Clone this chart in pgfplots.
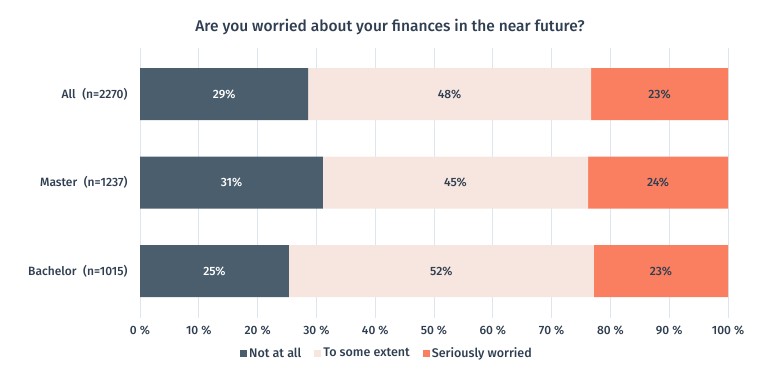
\documentclass[border=0pt]{standalone}
\usepackage{pgfplots}
\pgfplotsset{compat=1.18}
\usepackage{fontspec}
\setmainfont{Fira Sans Medium}
\definecolor{cdark}{HTML}{4B5E6D}
\definecolor{clight}{HTML}{F6E6DF}
\definecolor{corange}{HTML}{FA7F61}
\definecolor{ctext}{HTML}{2F3E50}
\definecolor{cgrid}{HTML}{DDE6EE}
\begin{document}
\begin{tikzpicture}[x=1pt,y=1pt]
\path[use as bounding box] (0,0) rectangle (768,378);
\node[text=ctext, font=\fontsize{15.5}{18}\selectfont] at (390,351) {Are you worried about your finances in the near future?};
\begin{axis}[
  at={(140pt,60pt)}, anchor=south west,
  scale only axis, width=588pt, height=270pt,
  xmin=0, xmax=100, ymin=-0.53, ymax=2.52,
  xbar stacked, bar width=52pt,
  ytick={0,1,2},
  yticklabels={Bachelor\hspace{0.3em} (n=1015), Master\hspace{0.3em} (n=1237), All\hspace{0.3em} (n=2270)},
  xtick={0,10,...,100},
  xticklabels={0 \%,10 \%,20 \%,30 \%,40 \%,50 \%,60 \%,70 \%,80 \%,90 \%,100 \%},
  axis line style={draw=none},
  major tick length=0pt,
  xmajorgrids,
  grid style={cgrid, line width=0.8pt},
  tick label style={text=ctext, font=\fontsize{12}{14}\selectfont},
  xticklabel style={yshift=-4pt},
  yticklabel style={xshift=-9pt},
  legend style={draw=none, fill=none, at={(0.42,-0.13)}, anchor=center,
    legend columns=3, font=\fontsize{12.5}{14}\selectfont, text=ctext,
    /tikz/every even column/.append style={column sep=11pt}},
  legend image code/.code={\fill[#1] (0pt,-3.5pt) rectangle (7pt,3.5pt);},
]
\addplot[fill=cdark, draw=none] coordinates {(28.6,2) (31.1,1) (25.3,0)};
\addplot[fill=clight, draw=none] coordinates {(48.1,2) (45.1,1) (51.9,0)};
\addplot[fill=corange, draw=none] coordinates {(23.3,2) (23.8,1) (22.8,0)};
\legend{Not at all, To some extent, Seriously worried}
\end{axis}
\begin{axis}[
  at={(140pt,60pt)}, anchor=south west,
  scale only axis, width=588pt, height=270pt,
  xmin=0, xmax=100, ymin=-0.53, ymax=2.52,
  hide axis,
  nodes near coords, point meta=explicit symbolic,
  every node near coord/.style={anchor=center, font=\fontsize{12}{14}\selectfont},
]
\addplot[only marks, mark=none, nodes near coords style={text=white}] coordinates {(14.3,2) [29\%] (15.55,1) [31\%] (12.65,0) [25\%]};
\addplot[only marks, mark=none, nodes near coords style={text=ctext}] coordinates {(52.65,2) [48\%] (53.65,1) [45\%] (51.25,0) [52\%] (88.35,2) [23\%] (88.1,1) [24\%] (88.6,0) [23\%]};
\end{axis}
\end{tikzpicture}
\end{document}
